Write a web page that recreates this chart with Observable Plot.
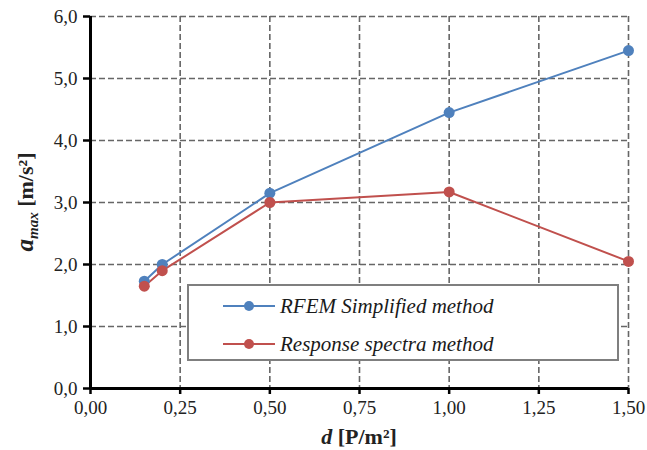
<!DOCTYPE html>
<html><head><meta charset="utf-8">
<script src="https://cdn.jsdelivr.net/npm/d3@7"></script>
<script src="https://cdn.jsdelivr.net/npm/@observablehq/plot@0.6"></script>
<style>
body{margin:0;background:#fff;}
#wrap{position:relative;width:647px;height:450px;overflow:hidden;}
#legend{position:absolute;left:187px;top:284px;width:432px;height:77px;border:2px solid #7f7f7f;background:#fff;box-sizing:border-box;font-family:'Liberation Serif',serif;font-style:italic;font-size:21px;color:#1a1a1a;}
#legend .row{position:absolute;left:34px;height:24px;display:flex;align-items:center;}
#legend svg{margin-right:5px;}
</style></head><body>
<div id="wrap"></div>
<script>
const xValues = [0.15, 0.2, 0.5, 1.0, 1.5];
const rfemValues = [1.73, 2.0, 3.15, 4.45, 5.45];
const responseValues = [1.65, 1.9, 3.0, 3.17, 2.05];
const seriesNames = ["RFEM Simplified method", "Response spectra method"];
const seriesColors = ["#4f81bd", "#c0504d"];
const xTicks = [0, 0.25, 0.5, 0.75, 1.0, 1.25, 1.5];
const yTicks = [0, 1, 2, 3, 4, 5, 6];

const FONT = "'Liberation Serif', serif";

const data = [];
xValues.forEach((x, i) => data.push({series: seriesNames[0], x, y: rfemValues[i]}));
xValues.forEach((x, i) => data.push({series: seriesNames[1], x, y: responseValues[i]}));

const fmtX = d => d3.format(".2f")(d).replace(".", ",");
const fmtY = d => d3.format(".1f")(d).replace(".", ",");
const gridStyle = {stroke: "#666", strokeOpacity: 1, strokeWidth: 1.6, strokeDasharray: "6,3"};

const plot = Plot.plot({
  width: 647, height: 450,
  marginLeft: 90, marginRight: 19, marginTop: 16, marginBottom: 62,
  style: {fontFamily: FONT, fontSize: "19px", color: "#222", background: "#fff"},
  x: {domain: [0, 1.5], label: null},
  y: {domain: [0, 6], label: null},
  color: {domain: seriesNames, range: seriesColors},
  marks: [
    Plot.gridX(xTicks, gridStyle),
    Plot.gridY(yTicks, gridStyle),
    Plot.axisX(xTicks, {tickFormat: fmtX, tickSize: 6, tickPadding: 6, stroke: "#000", strokeWidth: 2.5, fill: "#222", label: null}),
    Plot.axisY(yTicks, {tickFormat: fmtY, tickSize: 7, tickPadding: 6, stroke: "#000", strokeWidth: 2.5, fill: "#222", label: null}),
    Plot.ruleY([0], {stroke: "#000", strokeWidth: 3}),
    Plot.ruleX([0], {stroke: "#000", strokeWidth: 3}),
    Plot.line(data, {x: "x", y: "y", z: "series", stroke: "series", strokeWidth: 2}),
    Plot.dot(data, {x: "x", y: "y", fill: "series", r: 5.5})
  ]
});

const wrap = document.getElementById("wrap");
wrap.appendChild(plot);

const svg = d3.select(plot);
const xr = plot.scale("x").range, yr = plot.scale("y").range;
const xl = svg.append("text")
  .attr("x", (xr[0] + xr[1]) / 2).attr("y", 444)
  .attr("text-anchor", "middle").style("font-family", FONT)
  .attr("font-size", 22).attr("font-weight", "bold").attr("fill", "#222");
xl.append("tspan").attr("font-style", "italic").text("d");
xl.append("tspan").text(" [P/m²]");

const yl = svg.append("text")
  .attr("transform", `translate(33,${(yr[0] + yr[1]) / 2}) rotate(-90)`)
  .attr("text-anchor", "middle").style("font-family", FONT)
  .attr("font-size", 22).attr("font-weight", "bold").attr("fill", "#222");
yl.append("tspan").attr("font-style", "italic").attr("font-size", 25).text("a");
yl.append("tspan").attr("font-style", "italic").attr("font-size", 15).attr("dy", 5).text("max");
yl.append("tspan").attr("dy", -5).text(" [m/s²]");

const legend = document.createElement("div");
legend.id = "legend";
seriesNames.forEach((name, i) => {
  const row = document.createElement("div");
  row.className = "row";
  row.style.top = (8 + i * 38) + "px";
  row.innerHTML = `<svg width="52" height="14"><line x1="0" x2="52" y1="7" y2="7" stroke="${seriesColors[i]}" stroke-width="2"/><circle cx="26" cy="7" r="5" fill="${seriesColors[i]}"/></svg><span>${name}</span>`;
  legend.appendChild(row);
});
wrap.appendChild(legend);
</script></body></html>
